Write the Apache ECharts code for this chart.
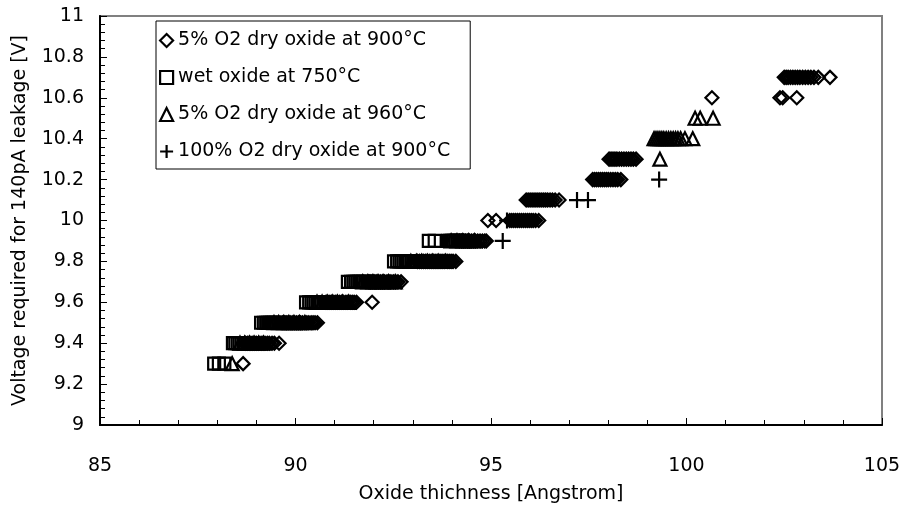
<!DOCTYPE html>
<html>
<head>
<meta charset="utf-8">
<script src="https://cdn.jsdelivr.net/npm/echarts@6/dist/echarts.min.js"></script>
<style>
  html, body { margin: 0; padding: 0; background: #fff; }
  #chart { width: 902px; height: 506px; }
</style>
</head>
<body>
<div id="chart"></div>
<script>
// Axis ticks
const thicknessTicks = [85, 90, 95, 100, 105];
const voltageTicks = [9, 9.2, 9.4, 9.6, 9.8, 10, 10.2, 10.4, 10.6, 10.8, 11];

const seriesNames = [
  '5% O2 dry oxide at 900°C',
  'wet oxide at 750°C',
  '5% O2 dry oxide at 960°C',
  '100% O2 dry oxide at 900°C'
];

// [oxide thickness (Angstrom), voltage for 140pA leakage (V)]
const dry5At900 = [
  [88.66, 9.3],
  [88.72, 9.4], [88.77, 9.4], [88.82, 9.4], [88.86, 9.4], [88.91, 9.4], [88.96, 9.4], [89.0, 9.4],
  [89.06, 9.4], [89.12, 9.4], [89.17, 9.4], [89.22, 9.4], [89.28, 9.4], [89.33, 9.4], [89.4, 9.4],
  [89.46, 9.4], [89.58, 9.4],
  [89.68, 9.5], [89.73, 9.5], [89.78, 9.5], [89.83, 9.5], [89.88, 9.5], [89.93, 9.5], [89.98, 9.5],
  [90.03, 9.5], [90.08, 9.5], [90.13, 9.5], [90.18, 9.5], [90.24, 9.5], [90.29, 9.5], [90.34, 9.5],
  [90.4, 9.5], [90.45, 9.5], [90.5, 9.5], [90.56, 9.5],
  [90.78, 9.6], [90.83, 9.6], [90.88, 9.6], [90.93, 9.6], [90.98, 9.6], [91.03, 9.6], [91.08, 9.6],
  [91.13, 9.6], [91.18, 9.6], [91.23, 9.6], [91.29, 9.6], [91.34, 9.6], [91.4, 9.6], [91.45, 9.6],
  [91.5, 9.6], [91.56, 9.6], [91.96, 9.6],
  [91.88, 9.7], [91.93, 9.7], [91.98, 9.7], [92.03, 9.7], [92.08, 9.7], [92.13, 9.7], [92.18, 9.7],
  [92.23, 9.7], [92.28, 9.7], [92.34, 9.7], [92.39, 9.7], [92.44, 9.7], [92.5, 9.7], [92.56, 9.7],
  [92.62, 9.7], [92.7, 9.7],
  [93.12, 9.8], [93.17, 9.8], [93.22, 9.8], [93.27, 9.8], [93.32, 9.8], [93.37, 9.8], [93.42, 9.8],
  [93.47, 9.8], [93.52, 9.8], [93.57, 9.8], [93.62, 9.8], [93.67, 9.8], [93.72, 9.8], [93.77, 9.8],
  [93.82, 9.8], [93.88, 9.8], [93.93, 9.8], [93.98, 9.8], [94.03, 9.8], [94.1, 9.8],
  [94.2, 9.9], [94.25, 9.9], [94.3, 9.9], [94.35, 9.9], [94.4, 9.9], [94.45, 9.9], [94.5, 9.9],
  [94.55, 9.9], [94.6, 9.9], [94.66, 9.9], [94.72, 9.9], [94.78, 9.9], [94.84, 9.9], [94.88, 9.9],
  [94.92, 10.0], [95.13, 10.0], [95.48, 10.0], [95.53, 10.0], [95.58, 10.0], [95.63, 10.0], [95.68, 10.0],
  [95.73, 10.0], [95.78, 10.0], [95.83, 10.0], [95.88, 10.0], [95.93, 10.0], [95.98, 10.0], [96.03, 10.0],
  [96.08, 10.0], [96.14, 10.0], [96.22, 10.0],
  [95.9, 10.1], [95.95, 10.1], [96.0, 10.1], [96.05, 10.1], [96.1, 10.1], [96.15, 10.1], [96.2, 10.1],
  [96.25, 10.1], [96.3, 10.1], [96.35, 10.1], [96.4, 10.1], [96.45, 10.1], [96.51, 10.1], [96.57, 10.1],
  [96.64, 10.1], [96.74, 10.1],
  [97.6, 10.2], [97.65, 10.2], [97.7, 10.2], [97.75, 10.2], [97.8, 10.2], [97.85, 10.2], [97.9, 10.2],
  [97.95, 10.2], [98.0, 10.2], [98.06, 10.2], [98.12, 10.2], [98.18, 10.2], [98.24, 10.2], [98.32, 10.2],
  [98.02, 10.3], [98.07, 10.3], [98.12, 10.3], [98.17, 10.3], [98.22, 10.3], [98.28, 10.3], [98.34, 10.3],
  [98.4, 10.3], [98.46, 10.3], [98.52, 10.3], [98.58, 10.3], [98.64, 10.3], [98.71, 10.3],
  [100.65, 10.6], [102.39, 10.6], [102.46, 10.6], [102.82, 10.6],
  [102.5, 10.7], [102.55, 10.7], [102.6, 10.7], [102.66, 10.7], [102.72, 10.7], [102.78, 10.7],
  [102.84, 10.7], [102.9, 10.7], [102.97, 10.7], [103.04, 10.7], [103.11, 10.7], [103.18, 10.7],
  [103.26, 10.7], [103.37, 10.7], [103.67, 10.7]
];

const wetAt750 = [
  [87.92, 9.3], [88.04, 9.3], [88.18, 9.3],
  [88.4, 9.4], [88.46, 9.4], [88.52, 9.4], [88.57, 9.4], [88.62, 9.4], [88.67, 9.4], [88.72, 9.4],
  [88.78, 9.4], [88.84, 9.4], [88.9, 9.4],
  [89.12, 9.5], [89.19, 9.5], [89.25, 9.5], [89.3, 9.5], [89.35, 9.5], [89.4, 9.5], [89.45, 9.5],
  [89.5, 9.5], [89.56, 9.5], [89.62, 9.5], [89.68, 9.5],
  [90.27, 9.6], [90.35, 9.6], [90.41, 9.6], [90.46, 9.6], [90.51, 9.6], [90.56, 9.6], [90.61, 9.6],
  [90.66, 9.6], [90.72, 9.6], [90.78, 9.6], [90.85, 9.6],
  [91.34, 9.7], [91.42, 9.7], [91.48, 9.7], [91.53, 9.7], [91.58, 9.7], [91.63, 9.7], [91.68, 9.7],
  [91.73, 9.7], [91.79, 9.7], [91.85, 9.7], [91.92, 9.7],
  [92.52, 9.8], [92.6, 9.8], [92.66, 9.8], [92.71, 9.8], [92.76, 9.8], [92.81, 9.8], [92.86, 9.8],
  [92.91, 9.8], [92.97, 9.8], [93.03, 9.8], [93.1, 9.8], [93.18, 9.8],
  [93.41, 9.9], [93.56, 9.9], [93.9, 9.9], [93.95, 9.9], [94.0, 9.9], [94.05, 9.9], [94.1, 9.9],
  [94.15, 9.9], [94.2, 9.9], [94.26, 9.9]
];

const dry5At960 = [
  [88.38, 9.3],
  [88.58, 9.4], [88.7, 9.4], [88.82, 9.4], [88.94, 9.4], [89.06, 9.4], [89.18, 9.4],
  [89.45, 9.5], [89.57, 9.5], [89.7, 9.5], [89.83, 9.5], [89.96, 9.5], [90.1, 9.5], [90.24, 9.5],
  [90.55, 9.6], [90.68, 9.6], [90.81, 9.6], [90.94, 9.6], [91.07, 9.6], [91.2, 9.6], [91.36, 9.6],
  [91.72, 9.7], [91.85, 9.7], [91.98, 9.7], [92.11, 9.7], [92.24, 9.7], [92.38, 9.7], [92.55, 9.7],
  [92.95, 9.8], [93.09, 9.8], [93.23, 9.8], [93.37, 9.8], [93.51, 9.8], [93.65, 9.8], [93.84, 9.8],
  [93.98, 9.9], [94.13, 9.9], [94.28, 9.9], [94.43, 9.9], [94.58, 9.9],
  [99.32, 10.3],
  [99.17, 10.4], [99.22, 10.4], [99.27, 10.4], [99.32, 10.4], [99.37, 10.4], [99.42, 10.4],
  [99.48, 10.4], [99.54, 10.4], [99.6, 10.4], [99.66, 10.4], [99.72, 10.4], [99.78, 10.4],
  [99.85, 10.4], [99.96, 10.4], [100.16, 10.4],
  [100.22, 10.5], [100.35, 10.5], [100.68, 10.5]
];

const dry100At900 = [
  [95.3, 9.9],
  [95.41, 10.0],
  [97.2, 10.1], [97.48, 10.1],
  [99.3, 10.2]
];

const FONT = 'DejaVu Sans';
const CROSS = 'path://M0,8L16,8M8,0L8,16';

const hollow = { color: 'rgba(0,0,0,0)', borderColor: '#000', borderWidth: 2.2, opacity: 1 };

function scatter(name, data, symbol, size) {
  return {
    name: name,
    type: 'scatter',
    data: data,
    symbol: symbol,
    symbolSize: size,
    itemStyle: hollow,
    emphasis: { disabled: true },
    silent: true
  };
}

const chart = echarts.init(document.getElementById('chart'), null, { renderer: 'canvas' });

chart.setOption({
  animation: false,
  backgroundColor: '#fff',
  textStyle: { fontFamily: FONT, color: '#000' },
  grid: {
    left: 100, right: 20, top: 16, bottom: 81,
    containLabel: false,
    outerBoundsMode: 'none',
    show: true, borderColor: '#808080', borderWidth: 2, backgroundColor: '#fff'
  },
  legend: {
    orient: 'vertical',
    left: 156, top: 21,
    backgroundColor: '#fff',
    borderColor: '#000', borderWidth: 1, borderRadius: 0,
    padding: [10, 20, 8, 3],
    itemGap: 18,
    itemWidth: 13, itemHeight: 13,
    itemStyle: { borderWidth: 2.2, borderColor: '#000', opacity: 1 },
    textStyle: { fontFamily: FONT, fontSize: 19, color: '#000' },
    data: seriesNames
  },
  xAxis: {
    type: 'value',
    min: thicknessTicks[0],
    max: thicknessTicks[thicknessTicks.length - 1],
    interval: thicknessTicks[1] - thicknessTicks[0],
    name: 'Oxide thichness [Angstrom]',
    nameLocation: 'middle',
    nameGap: 60,
    nameTextStyle: { fontFamily: FONT, fontSize: 19, color: '#000' },
    axisLine: { show: true, lineStyle: { color: '#000', width: 2 } },
    axisTick: { show: true, inside: true, length: 7, lineStyle: { color: '#000', width: 1 } },
    minorTick: { show: true, splitNumber: 5, length: 5, lineStyle: { color: '#000', width: 1 } },
    splitLine: { show: false },
    axisLabel: { margin: 32, fontFamily: FONT, fontSize: 19, color: '#000' }
  },
  yAxis: {
    type: 'value',
    min: voltageTicks[0],
    max: voltageTicks[voltageTicks.length - 1],
    interval: 0.2,
    name: 'Voltage required for 140pA leakage [V]',
    nameLocation: 'middle',
    nameGap: 70,
    nameTextStyle: { fontFamily: FONT, fontSize: 19, color: '#000' },
    axisLine: { show: true, lineStyle: { color: '#000', width: 2 } },
    axisTick: { show: true, inside: true, length: 7, lineStyle: { color: '#000', width: 1 } },
    minorTick: { show: true, splitNumber: 5, length: 5, lineStyle: { color: '#000', width: 1 } },
    splitLine: { show: false },
    axisLabel: {
      margin: 16, fontFamily: FONT, fontSize: 19, color: '#000',
      formatter: v => String(Math.round(v * 10) / 10)
    }
  },
  series: [
    scatter(seriesNames[0], dry5At900, 'diamond', 13),
    scatter(seriesNames[1], wetAt750, 'rect', 12),
    scatter(seriesNames[2], dry5At960, 'triangle', 13),
    scatter(seriesNames[3], dry100At900, CROSS, 16)
  ]
});
</script>
</body>
</html>
